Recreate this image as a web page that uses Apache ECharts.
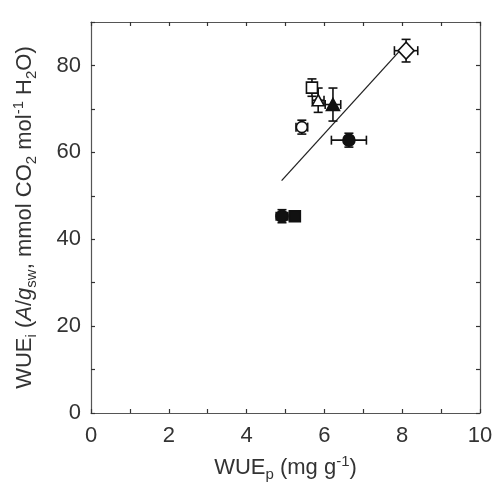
<!DOCTYPE html>
<html><head><meta charset="utf-8">
<script src="https://cdn.jsdelivr.net/npm/echarts@6/dist/echarts.min.js"></script>
<style>html,body{margin:0;padding:0;background:#fff}#c{width:498px;height:494px}</style>
</head><body><div id="c"></div>
<script>
// Data
const groups = ['A','B','C','D','E','F','G','H'];
const wueP = [8.10, 5.68, 5.84, 6.22, 5.42, 6.63, 4.91, 5.24];
const wueI = [83.4, 74.9, 72.0, 71.0, 65.8, 62.8, 45.3, 45.3];
const xErr = [0.30, 0.12, 0.15, 0.20, 0.15, 0.45, 0.15, 0.10];
const yErr = [2.6, 2.0, 2.8, 3.8, 1.6, 1.6, 1.5, 1.0];
const fitX = [4.9, 8.0];
const fitY = [53.5, 84.0];
const xTicks = [0, 2, 4, 6, 8, 10];
const yTicks = [0, 20, 40, 60, 80];

// Styles (separate from data)
const markerStyle = [
  {symbol:'diamond', size:[16,17], fill:'#fff'},
  {symbol:'rect', size:[11,11], fill:'#fff'},
  {symbol:'triangle', size:[12,11], fill:'#fff'},
  {symbol:'triangle', size:[13,12], fill:'#111'},
  {symbol:'circle', size:[11,11], fill:'#fff'},
  {symbol:'circle', size:[12,12], fill:'#111'},
  {symbol:'circle', size:[12,12], fill:'#111'},
  {symbol:'rect', size:[11,11], fill:'#111'}
];

const chart = echarts.init(document.getElementById('c'));
const font = 'Liberation Sans, Arial, sans-serif';
const axisCol = '#555';
const txt = '#333';

const errData = groups.map((g,i)=>[wueP[i], wueI[i], xErr[i], yErr[i]]);

const scatterSeries = groups.map((g,i)=>({
  type:'scatter', name:g, z:5,
  symbol: markerStyle[i].symbol,
  symbolSize: markerStyle[i].size,
  itemStyle:{color:markerStyle[i].fill, borderColor:'#111', borderWidth:1.6, opacity:1},
  data:[[wueP[i], wueI[i]]]
}));

function baseAxis(extra){
  return Object.assign({
    axisLine:{show:true, onZero:false, lineStyle:{color:axisCol, width:1.2}},
    axisTick:{show:true, inside:true, length:4, lineStyle:{color:'#333', width:1.2}},
    splitLine:{show:false}
  }, extra);
}

chart.setOption({
  backgroundColor:'#fff',
  animation:false,
  grid:{left:91, right:18, top:22, bottom:81},
  xAxis:[
    baseAxis({
      type:'value', min:0, max:10, interval:1, position:'bottom',
      axisLabel:{margin:12, fontSize:22, color:txt, fontFamily:font,
        formatter:v=> xTicks.includes(v) ? String(v) : ''},
      name:'{b|WUE}{s|p}{b| (mg g}{u|-1}{b|)}',
      nameLocation:'middle', nameGap:40,
      nameTextStyle:{rich:{
        b:{fontSize:22, color:txt, fontFamily:font},
        s:{fontSize:15, color:txt, fontFamily:font, padding:[14,0,0,0]},
        u:{fontSize:15, color:txt, fontFamily:font, padding:[0,0,11,0]}
      }}
    }),
    baseAxis({
      type:'value', min:0, max:10, interval:1, position:'top',
      axisLabel:{show:false}
    })
  ],
  yAxis:[
    baseAxis({
      type:'value', min:0, max:90, interval:10, position:'left',
      axisLabel:{margin:10, fontSize:22, color:txt, fontFamily:font,
        formatter:v=> yTicks.includes(v) ? String(v) : ''},
      name:'{b|WUE}{s|i}{b| (}{i|A}{b|/}{i|g}{s|sw}{b|, mmol CO}{s|2}{b| mol}{u|-1}{b| H}{s|2}{b|O)}',
      nameLocation:'middle', nameGap:52, nameRotate:90,
      nameTextStyle:{rich:{
        b:{fontSize:22, color:txt, fontFamily:font},
        i:{fontSize:22, color:txt, fontFamily:font, fontStyle:'italic'},
        s:{fontSize:15, color:txt, fontFamily:font, padding:[14,0,0,0]},
        u:{fontSize:15, color:txt, fontFamily:font, padding:[0,0,11,0]}
      }}
    }),
    baseAxis({
      type:'value', min:0, max:90, interval:10, position:'right',
      axisLabel:{show:false}
    })
  ],
  series:[
    {
      type:'line', z:3, symbol:'none', xAxisIndex:0, yAxisIndex:0,
      data: fitX.map((x,i)=>[x, fitY[i]]),
      lineStyle:{color:'#222', width:1.3}
    },
    {
      type:'custom', z:4, xAxisIndex:0, yAxisIndex:0,
      data: errData,
      renderItem:(params, api)=>{
        const x = api.value(0), y = api.value(1), ex = api.value(2), ey = api.value(3);
        const c = api.coord([x,y]);
        const l = api.coord([x-ex,y]), r = api.coord([x+ex,y]);
        const t = api.coord([x,y+ey]), b = api.coord([x,y-ey]);
        const cap = 4.5;
        const st = {stroke:'#111', lineWidth:1.6};
        const ln = (x1,y1,x2,y2)=>({type:'line', shape:{x1,y1,x2,y2}, style:st});
        return {type:'group', children:[
          ln(l[0],c[1],r[0],c[1]),
          ln(l[0],c[1]-cap,l[0],c[1]+cap),
          ln(r[0],c[1]-cap,r[0],c[1]+cap),
          ln(c[0],t[1],c[0],b[1]),
          ln(c[0]-cap,t[1],c[0]+cap,t[1]),
          ln(c[0]-cap,b[1],c[0]+cap,b[1])
        ]};
      }
    }
  ].concat(scatterSeries)
});
</script></body></html>
